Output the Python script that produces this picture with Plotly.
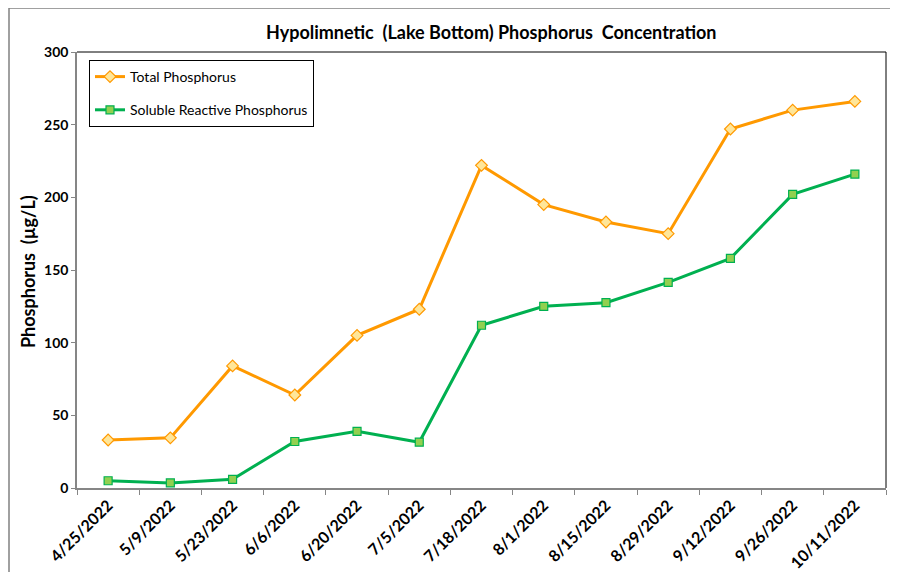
import plotly.graph_objects as go

dates = ["4/25/2022", "5/9/2022", "5/23/2022", "6/6/2022", "6/20/2022", "7/5/2022",
         "7/18/2022", "8/1/2022", "8/15/2022", "8/29/2022", "9/12/2022", "9/26/2022", "10/11/2022"]
total_p = [33, 34.5, 84, 64, 105, 123, 222, 195, 183, 175, 247, 260, 266]
srp = [5, 3.5, 6, 32, 39, 31.5, 112, 125, 127.5, 141.5, 158, 202, 216]
y_ticks = [0, 50, 100, 150, 200, 250, 300]

FONT = "Lato"
OFF = 8  # page body margin offset

fig = go.Figure()
fig.add_trace(go.Scatter(
    x=dates, y=total_p, name="Total Phosphorus", mode="lines+markers",
    legendgroup="a",
    line=dict(color="#FF9900", width=3),
    marker=dict(symbol="diamond", size=9, color="#FFE699",
                line=dict(color="#FF9900", width=1.2)),
))
fig.add_trace(go.Scatter(
    x=dates, y=srp, name="Soluble Reactive Phosphorus", mode="lines+markers",
    legendgroup="b",
    line=dict(color="#00B050", width=3),
    marker=dict(symbol="square", size=8, color="#92D050",
                line=dict(color="#00B050", width=1.2)),
))

W, H = 898, 572
# desired plot area in screen pixels
SL, SR, ST, SB = 77, 886, 52, 488
L, T = SL - OFF, ST - OFF
pw, ph = SR - SL, SB - ST
R = W - L - pw
B = H - T - ph


def px(sx):
    return (sx - SL) / pw


def py(sy):
    return (SB - sy) / ph


fig.update_layout(
    width=W, height=H,
    margin=dict(l=L, r=R, t=T, b=B, autoexpand=False),
    paper_bgcolor="white", plot_bgcolor="white",
    font=dict(family=FONT, color="black"),
    showlegend=True,
    legend=dict(
        x=px(89), y=py(60), xanchor="left", yanchor="top",
        bgcolor="white", bordercolor="black", borderwidth=1,
        font=dict(size=14, family=FONT), tracegroupgap=12,
        itemwidth=30,
    ),
    xaxis=dict(
        type="category", range=[-0.5, len(dates) - 0.5],
        tickson="boundaries", ticks="outside", ticklen=5,
        tickcolor="#868686", showline=True, linecolor="#868686", linewidth=1.5,
        tickangle=-45, tickfont=dict(size=16, family=FONT, color="black"),
        showgrid=False, zeroline=False, automargin=False,
    ),
    yaxis=dict(
        range=[0, 300], tickvals=y_ticks, ticks="outside", ticklen=4,
        tickcolor="#868686", showline=True, linecolor="#868686", linewidth=1.5,
        tickfont=dict(size=14, family=FONT, color="black"),
        showgrid=False, zeroline=False, automargin=False,
    ),
)

fig.update_xaxes(tickfont=dict(weight="bold"))
fig.update_yaxes(tickfont=dict(weight="bold"))

# title
fig.add_annotation(
    text="<b>Hypolimnetic\u00a0 (Lake Bottom) Phosphorus\u00a0 Concentration</b>",
    xref="paper", yref="paper", x=px(492), y=py(32),
    xanchor="center", yanchor="middle", showarrow=False,
    font=dict(size=18, family=FONT, color="black"),
)
# y title
fig.add_annotation(
    text="<b>Phosphorus\u00a0 (\u00b5g/L)</b>", textangle=-90,
    xref="paper", yref="paper", x=px(28), y=py(272),
    xanchor="center", yanchor="middle", showarrow=False,
    font=dict(size=18, family=FONT, color="black"),
)

# plot area top/right border
fig.add_shape(type="line", xref="paper", yref="paper", x0=0, x1=1, y0=1, y1=1,
              line=dict(color="black", width=1))
fig.add_shape(type="line", xref="paper", yref="paper", x0=1, x1=1, y0=0, y1=1,
              line=dict(color="black", width=1))
# outer chart border (top and left visible)
fig.add_shape(type="line", xref="paper", yref="paper",
              x0=px(OFF + 1), x1=px(W + 20), y0=py(8), y1=py(8),
              line=dict(color="#808080", width=1.5))
fig.add_shape(type="line", xref="paper", yref="paper",
              x0=px(OFF + 1), x1=px(OFF + 1), y0=py(8), y1=py(H + 20),
              line=dict(color="#808080", width=1.5))

fig.write_html("out.html")
